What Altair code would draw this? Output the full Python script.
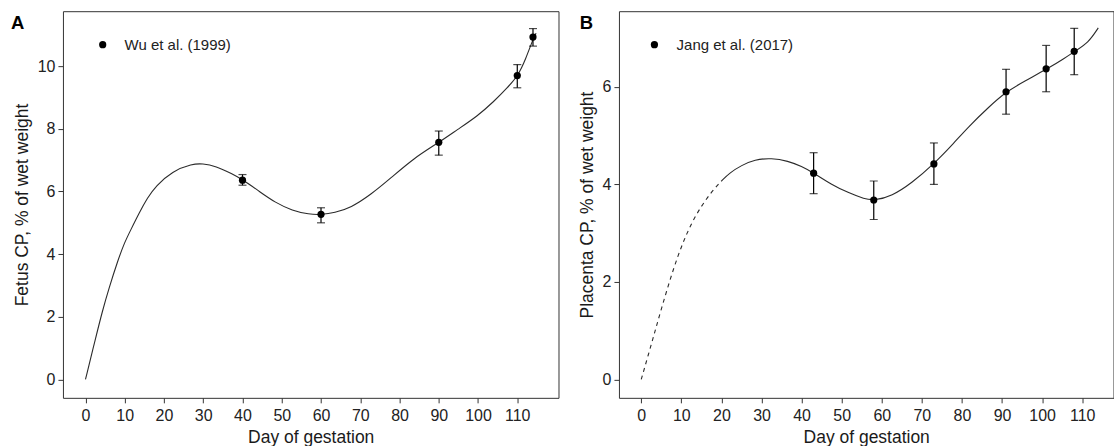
import altair as alt
import pandas as pd

FONT = "Liberation Sans"

# ---------------- Panel A : Fetus CP (Wu et al. 1999) ----------------
a_curve_x = [0, 2.6, 4.3, 6.0, 8.2, 9.9, 11.6, 13.7, 15.8, 17.9, 22.1, 27.2, 29.8, 33.2,
             37.4, 40.0, 44.2, 48.4, 52.7, 56.9, 60.2, 63.4, 67.6, 72.7, 77.8, 83.7,
             90.1, 94.8, 99.8, 104.1, 107.5, 110.2, 112.1, 114.2, 114.8]
a_curve_y = [0, 1.33, 2.18, 2.92, 3.78, 4.36, 4.79, 5.32, 5.80, 6.17, 6.65, 6.88, 6.89, 6.81,
             6.56, 6.38, 6.01, 5.64, 5.39, 5.27, 5.26, 5.32, 5.48, 5.90, 6.43, 7.07,
             7.57, 7.98, 8.40, 8.88, 9.31, 9.70, 10.21, 10.93, 11.05]
a_day = [40, 60, 90, 110, 114]
a_mean = [6.36, 5.27, 7.57, 9.70, 10.93]
a_lo = [6.20, 5.00, 7.16, 9.31, 10.64]
a_hi = [6.54, 5.48, 7.93, 10.05, 11.20]

# ---------------- Panel B : Placenta CP (Jang et al. 2017) ----------------
b_dash_x = [0, 1.75, 3.4, 5.1, 7.15, 9.2, 11.3, 13.8, 16.3, 18.4, 20.0]
b_dash_y = [0, 0.50, 0.98, 1.47, 2.04, 2.55, 2.99, 3.40, 3.71, 3.93, 4.07]
b_curve_x = [20.0, 22.1, 25.0, 28.3, 32.5, 36.6, 40.0, 43.1, 47.4, 51.6, 55.7, 58.1, 62.5,
             67.5, 73.0, 78.0, 81.6, 86.6, 91.0, 95.7, 101.3, 105.7, 108.1, 111.5, 114.0]
b_curve_y = [4.07, 4.24, 4.39, 4.51, 4.54, 4.48, 4.37, 4.23, 4.00, 3.83, 3.70, 3.67, 3.76,
             4.03, 4.42, 4.85, 5.18, 5.58, 5.90, 6.12, 6.37, 6.59, 6.73, 6.90, 7.21]
b_day = [43, 58, 73, 91, 101, 108]
b_mean = [4.23, 3.68, 4.42, 5.90, 6.37, 6.73]
b_lo = [3.81, 3.28, 4.00, 5.44, 5.90, 6.25]
b_hi = [4.65, 4.07, 4.85, 6.36, 6.85, 7.20]

x_ticks = [0, 10, 20, 30, 40, 50, 60, 70, 80, 90, 100, 110]
a_y_ticks = [0, 2, 4, 6, 8, 10]
b_y_ticks = [0, 2, 4, 6]

LINE_COLOR = "#2b2b2b"


def panel(label, source, ytitle, curves, day, mean, lo, hi, x_dom, y_dom, y_ticks,
          width, legend_x, legend_y, label_offset, label_x):
    x_axis = alt.Axis(values=x_ticks, title="Day of gestation", tickSize=5, labelPadding=5,
                      titlePadding=4.5, grid=False)
    y_axis = alt.Axis(values=y_ticks, title=ytitle, tickSize=5, labelPadding=3,
                      titlePadding=6, grid=False)
    xs = alt.Scale(domain=x_dom, nice=False, zero=False)
    ys = alt.Scale(domain=y_dom, nice=False, zero=False)

    layers = []
    for cx, cy, dash in curves:
        df = pd.DataFrame({"day": cx, "cp": cy})
        mk = dict(color=LINE_COLOR, strokeWidth=1.1, interpolate="basis")
        if dash:
            mk["strokeDash"] = [4, 4]
        layers.append(
            alt.Chart(df).mark_line(**mk).encode(
                x=alt.X("day:Q", scale=xs, axis=x_axis),
                y=alt.Y("cp:Q", scale=ys, axis=y_axis),
            )
        )
    pts = pd.DataFrame({"day": day, "cp": mean, "lo": lo, "hi": hi, "src": [source] * len(day)})
    layers.append(
        alt.Chart(pts).mark_rule(color="black", strokeWidth=1.2).encode(
            x=alt.X("day:Q", scale=xs, axis=x_axis),
            y=alt.Y("lo:Q", scale=ys, axis=y_axis),
            y2="hi:Q",
        )
    )
    for f in ["lo", "hi"]:
        layers.append(
            alt.Chart(pts).mark_tick(orient="horizontal", size=8, thickness=1.2, color="black").encode(
                x=alt.X("day:Q", scale=xs, axis=x_axis),
                y=alt.Y(f + ":Q", scale=ys, axis=y_axis),
            )
        )
    layers.append(
        alt.Chart(pts).mark_point(filled=True, size=52, opacity=1, shape="circle").encode(
            x=alt.X("day:Q", scale=xs, axis=x_axis),
            y=alt.Y("cp:Q", scale=ys, axis=y_axis),
            color=alt.Color(
                "src:N",
                scale=alt.Scale(range=["#000000"]),
                legend=alt.Legend(
                    orient="none", legendX=legend_x, legendY=legend_y, title=None,
                    padding=0, symbolType="circle", symbolSize=52, symbolFillColor="black",
                    symbolStrokeWidth=0, symbolOpacity=1, labelFont=FONT,
                    labelFontSize=15, labelColor="#222222", labelOffset=label_offset,
                ),
            ),
        )
    )
    lab = pd.DataFrame({"label": [label]})
    layers.append(
        alt.Chart(lab).mark_text(align="left", baseline="alphabetic", font=FONT, fontSize=18.5,
                                 fontWeight="bold", color="black").encode(
            text="label:N", x=alt.value(label_x), y=alt.value(18.3)
        )
    )
    return alt.layer(*layers).properties(width=width, height=387)


pa = panel("A", "Wu et al. (1999)", "Fetus CP, % of wet weight",
           [(a_curve_x, a_curve_y, False)], a_day, a_mean, a_lo, a_hi,
           [-5.74, 120.5], [-0.587, 11.755], a_y_ticks, 496, 32.3, 26, 14.4, -52)
pb = panel("B", "Jang et al. (2017)", "Placenta CP, % of wet weight",
           [(b_dash_x, b_dash_y, True), (b_curve_x, b_curve_y, False)], b_day, b_mean, b_lo, b_hi,
           [-5.56, 117.8], [-0.377, 7.552], b_y_ticks, 495, 28, 26, 14.7, -39.3)

chart = alt.hconcat(pa, pb, spacing=17.5).resolve_scale(color="independent").resolve_legend(
    color="independent"
).properties(
    padding={"left": 10, "top": 10, "right": 0, "bottom": 0}, background="white"
).configure_view(
    stroke="#333333", strokeWidth=1
).configure_axis(
    domain=False, tickColor="#333333", tickWidth=1, labelFont=FONT, labelFontSize=16,
    labelColor="#222222", titleFont=FONT, titleFontSize=17.5, titleFontWeight="normal",
    titleColor="#1a1a1a",
)

chart.save("out.html", embed_options={"renderer": "svg", "actions": False})
